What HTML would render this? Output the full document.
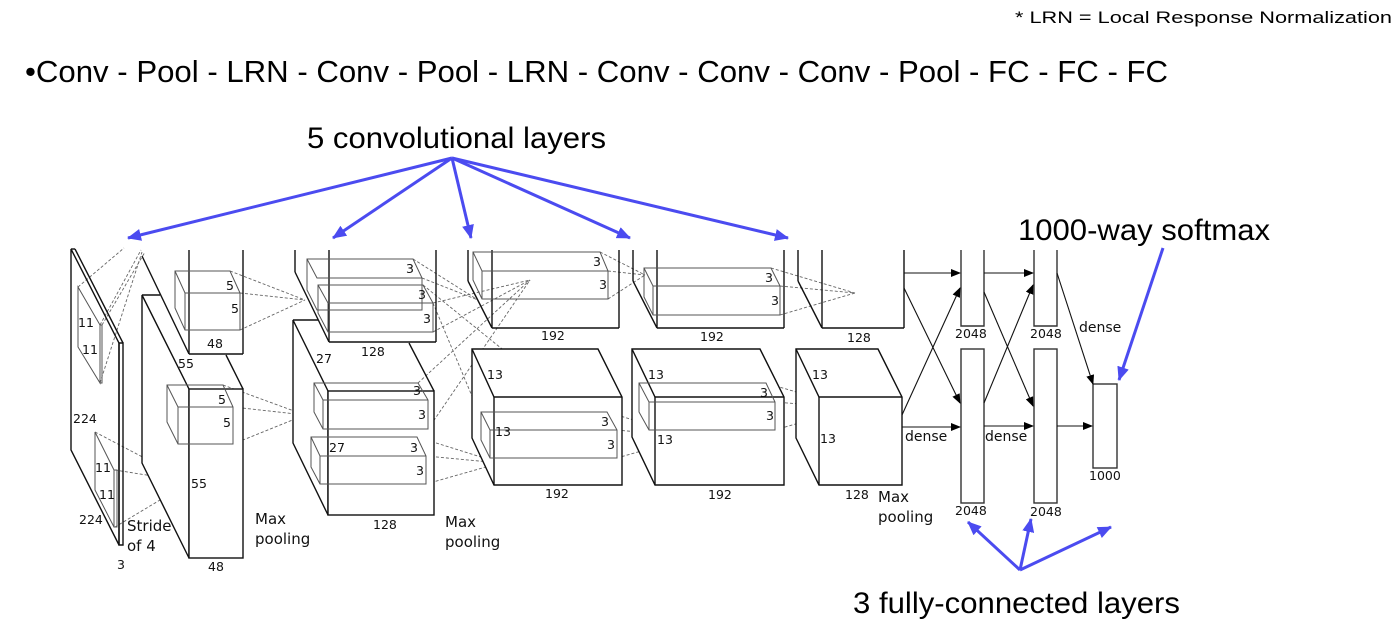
<!DOCTYPE html>
<html><head><meta charset="utf-8"><style>
html,body{margin:0;padding:0;background:#fff;}
svg{display:block;}
.t{font-family:"DejaVu Sans","Liberation Sans",sans-serif;font-size:12.5px;fill:#111;}
.h{font-family:"Liberation Sans",sans-serif;fill:#000;}
</style></head><body>
<svg width="1398" height="633" viewBox="0 0 1398 633" xmlns="http://www.w3.org/2000/svg">
<defs>
<marker id="ak" markerWidth="10" markerHeight="8" refX="9" refY="4" orient="auto" markerUnits="userSpaceOnUse"><path d="M0,0 L10,4 L0,8 Z" fill="#000"/></marker>
<marker id="ab" markerWidth="14" markerHeight="12" refX="13" refY="6" orient="auto" markerUnits="userSpaceOnUse"><path d="M0,0 L14,6 L0,12 Z" fill="#4b4bf0"/></marker>
</defs>

<text class="h" x="1015" y="23" font-size="17" textLength="377" lengthAdjust="spacingAndGlyphs">* LRN = Local Response Normalization</text>
<text class="h" x="25" y="82" font-size="31" textLength="1143" lengthAdjust="spacingAndGlyphs">•Conv - Pool - LRN - Conv - Pool - LRN - Conv - Conv - Conv - Pool - FC - FC - FC</text>
<text class="h" x="307" y="148" font-size="30" textLength="299" lengthAdjust="spacingAndGlyphs">5 convolutional layers</text>
<text class="h" x="1018" y="240" font-size="30" textLength="252" lengthAdjust="spacingAndGlyphs">1000-way softmax</text>
<text class="h" x="853" y="613" font-size="30" textLength="327" lengthAdjust="spacingAndGlyphs">3 fully-connected layers</text>

<g stroke="#4b4bf0" stroke-width="3" fill="none" marker-end="url(#ab)">
<line x1="452" y1="158" x2="128" y2="238"/>
<line x1="452" y1="158" x2="333" y2="238"/>
<line x1="452" y1="158" x2="471" y2="238"/>
<line x1="452" y1="158" x2="630" y2="238"/>
<line x1="452" y1="158" x2="788" y2="238"/>
<line x1="1163" y1="248" x2="1119" y2="380"/>
<line x1="1020" y1="570" x2="968" y2="522"/>
<line x1="1020" y1="570" x2="1031" y2="519"/>
<line x1="1020" y1="570" x2="1111" y2="527"/>
</g>

<g stroke="#666" stroke-width="0.9" stroke-dasharray="3,2" fill="none">
<line x1="78" y1="287" x2="124" y2="248"/><line x1="100" y1="325" x2="141" y2="250"/><line x1="100" y1="383" x2="142" y2="252"/><line x1="102" y1="325" x2="145" y2="252"/>
<line x1="95" y1="432" x2="190" y2="482"/><line x1="115" y1="470" x2="190" y2="482"/><line x1="115" y1="527" x2="190" y2="482"/>
<line x1="230" y1="271" x2="305" y2="300"/><line x1="240" y1="293" x2="305" y2="300"/><line x1="240" y1="330" x2="305" y2="300"/>
<line x1="223" y1="385" x2="305" y2="415"/><line x1="233" y1="407" x2="305" y2="415"/><line x1="233" y1="444" x2="305" y2="415"/>
<line x1="413" y1="259" x2="478" y2="300"/><line x1="422" y1="278" x2="478" y2="300"/><line x1="433" y1="303" x2="530" y2="280"/><line x1="433" y1="332" x2="530" y2="280"/>
<line x1="418" y1="383" x2="530" y2="280"/><line x1="428" y1="429" x2="530" y2="280"/>
<line x1="423" y1="285" x2="580" y2="412"/><line x1="433" y1="303" x2="500" y2="463"/>
<line x1="417" y1="437" x2="500" y2="463"/><line x1="426" y1="456" x2="500" y2="463"/><line x1="426" y1="484" x2="500" y2="463"/>
<line x1="600" y1="252" x2="645" y2="275"/><line x1="608" y1="271" x2="645" y2="275"/><line x1="608" y1="299" x2="645" y2="275"/>
<line x1="607" y1="412" x2="690" y2="437"/><line x1="617" y1="430" x2="690" y2="437"/><line x1="617" y1="458" x2="690" y2="437"/>
<line x1="771" y1="268" x2="855" y2="293"/><line x1="780" y1="286" x2="855" y2="293"/><line x1="780" y1="315" x2="855" y2="293"/>
<line x1="766" y1="383" x2="850" y2="408"/><line x1="775" y1="402" x2="850" y2="408"/><line x1="775" y1="430" x2="850" y2="408"/>
</g>

<g stroke="#111" stroke-width="1.4" fill="none">
<polygon points="71,249 119,343 119,545 71,450"/>
<polygon points="119,343 123,343 123,545 119,545"/>
<line x1="71" y1="249" x2="75" y2="249"/><line x1="75" y1="249" x2="123" y2="343"/>
</g>
<g stroke="#555" stroke-width="1" fill="none">
<polygon points="78,287 100,325 100,383 78,347"/><polygon points="100,325 102,325 102,383 100,383"/>
<polygon points="95,432 114,470 114,527 95,490"/><polygon points="114,470 117,470 117,527 114,527"/>
</g>

<!-- layer 2 -->
<g stroke="#111" stroke-width="1.4" fill="none">
<line x1="142" y1="256" x2="189" y2="354"/>
<line x1="189" y1="250" x2="189" y2="354"/><line x1="243" y1="250" x2="243" y2="354"/>
<line x1="189" y1="354" x2="243" y2="354"/>
<line x1="226" y1="355" x2="243" y2="389"/>
<polygon points="142,295 189,389 189,558 142,463" fill="#fff"/>
<line x1="142" y1="295" x2="160" y2="295"/>
<rect x="189" y="389" width="54" height="169" fill="#fff"/>
</g>
<g stroke="#555" stroke-width="1" fill="none">
<polygon points="175,271 230,271 240,293 240,330 185,330 175,308"/><polyline points="175,271 185,293 240,293"/><line x1="185" y1="293" x2="185" y2="330"/>
<polygon points="167,385 223,385 233,407 233,444 178,444 167,422"/><polyline points="167,385 178,407 233,407"/><line x1="178" y1="407" x2="178" y2="444"/>
</g>

<!-- layer 3 -->
<g stroke="#111" stroke-width="1.4" fill="none">
<line x1="295" y1="250" x2="295" y2="272"/><line x1="295" y1="272" x2="329" y2="342"/>
<line x1="329" y1="250" x2="329" y2="342"/><line x1="436" y1="250" x2="436" y2="342"/><line x1="329" y1="342" x2="436" y2="342"/>
<line x1="409" y1="343" x2="434" y2="391"/>
<polygon points="293,320 328,391 328,515 293,443" fill="#fff"/>
<line x1="293" y1="320" x2="318" y2="320"/>
<rect x="328" y="391" width="106" height="124" fill="#fff"/>
</g>
<g stroke="#555" stroke-width="1" fill="none">
<polygon points="307,259 413,259 422,278 422,310 317,310 307,290"/><polyline points="307,259 317,278 422,278"/>
<polygon points="318,285 423,285 433,303 433,332 328,332 318,313"/><polyline points="318,285 328,303 433,303"/><line x1="328" y1="303" x2="328" y2="332"/>
<polygon points="314,383 418,383 428,400 428,429 323,429 314,412"/><polyline points="314,383 323,400 428,400"/><line x1="323" y1="400" x2="323" y2="429"/>
<polygon points="311,437 417,437 426,456 426,484 320,484 311,467"/><polyline points="311,437 320,456 426,456"/><line x1="320" y1="456" x2="320" y2="484"/>
</g>

<!-- layer 4 -->
<g stroke="#111" stroke-width="1.4" fill="none">
<line x1="468" y1="250" x2="468" y2="281"/><line x1="468" y1="281" x2="492" y2="328"/>
<line x1="492" y1="250" x2="492" y2="328"/><line x1="619" y1="250" x2="619" y2="328"/><line x1="492" y1="328" x2="619" y2="328"/>
<polygon points="472,349 598,349 622,397 622,485 494,485 472,438" fill="#fff"/>
<polyline points="472,349 494,397 622,397"/><line x1="494" y1="397" x2="494" y2="485"/>
</g>
<g stroke="#555" stroke-width="1" fill="none">
<polygon points="473,252 600,252 608,271 608,299 482,299 473,280"/><polyline points="473,252 482,271 608,271"/><line x1="482" y1="271" x2="482" y2="299"/>
<polygon points="481,412 607,412 617,430 617,458 490,458 481,440"/><polyline points="481,412 490,430 617,430"/><line x1="490" y1="430" x2="490" y2="458"/>
</g>

<!-- layer 5 -->
<g stroke="#111" stroke-width="1.4" fill="none">
<line x1="633" y1="250" x2="633" y2="281"/><line x1="633" y1="281" x2="657" y2="328"/>
<line x1="657" y1="250" x2="657" y2="328"/><line x1="784" y1="250" x2="784" y2="328"/><line x1="657" y1="328" x2="784" y2="328"/>
<polygon points="632,349 760,349 784,397 784,485 655,485 632,437" fill="#fff"/>
<polyline points="632,349 655,397 784,397"/><line x1="655" y1="397" x2="655" y2="485"/>
</g>
<g stroke="#555" stroke-width="1" fill="none">
<polygon points="644,268 771,268 780,286 780,315 653,315 644,297"/><polyline points="644,268 653,286 780,286"/><line x1="653" y1="286" x2="653" y2="315"/>
<polygon points="639,383 766,383 775,402 775,430 649,430 639,412"/><polyline points="639,383 649,402 775,402"/><line x1="649" y1="402" x2="649" y2="430"/>
</g>

<!-- layer 6 -->
<g stroke="#111" stroke-width="1.4" fill="none">
<line x1="798" y1="250" x2="798" y2="281"/><line x1="798" y1="281" x2="822" y2="328"/>
<line x1="822" y1="250" x2="822" y2="328"/><line x1="904" y1="250" x2="904" y2="328"/><line x1="822" y1="328" x2="904" y2="328"/>
<polygon points="796,349 878,349 902,397 902,485 819,485 796,438" fill="#fff"/>
<polyline points="796,349 819,397 902,397"/><line x1="819" y1="397" x2="819" y2="485"/>
</g>

<!-- FC -->
<g stroke="#333" stroke-width="1.4" fill="#fff">
<polyline points="961,250 961,326 984,326 984,250" fill="none"/>
<rect x="961" y="349" width="23" height="154"/>
<polyline points="1034,250 1034,326 1057,326 1057,250" fill="none"/>
<rect x="1034" y="349" width="23" height="154"/>
<rect x="1093" y="384" width="24" height="84"/>
</g>
<g stroke="#111" stroke-width="1.1" marker-end="url(#ak)">
<line x1="904" y1="273" x2="960" y2="273"/><line x1="904" y1="288" x2="960" y2="403"/>
<line x1="902" y1="415" x2="960" y2="288"/><line x1="902" y1="427" x2="960" y2="427"/>
<line x1="984" y1="273" x2="1033" y2="273"/><line x1="984" y1="292" x2="1033" y2="406"/>
<line x1="984" y1="403" x2="1033" y2="285"/><line x1="984" y1="426" x2="1033" y2="426"/>
<line x1="1057" y1="426" x2="1092" y2="426"/><line x1="1057" y1="273" x2="1093" y2="384"/>
</g>

<g class="t">
<text x="78" y="327">11</text><text x="82" y="354">11</text>
<text x="73" y="423">224</text><text x="79" y="524">224</text>
<text x="95" y="472">11</text><text x="99" y="499">11</text>
<text x="117" y="569">3</text>
<text x="127" y="531" font-size="15">Stride</text><text x="127" y="551" font-size="15">of 4</text>
<text x="226" y="290">5</text><text x="231" y="313">5</text><text x="207" y="348">48</text>
<text x="178" y="368">55</text>
<text x="218" y="404">5</text><text x="223" y="427">5</text>
<text x="191" y="488">55</text><text x="208" y="571">48</text>
<text x="255" y="524" font-size="15">Max</text><text x="255" y="544" font-size="15">pooling</text>
<text x="406" y="273">3</text><text x="418" y="299">3</text><text x="423" y="323">3</text>
<text x="361" y="356">128</text><text x="316" y="363">27</text>
<text x="413" y="395">3</text><text x="418" y="419">3</text>
<text x="329" y="452">27</text><text x="410" y="452">3</text><text x="416" y="475">3</text>
<text x="373" y="529">128</text>
<text x="445" y="527" font-size="15">Max</text><text x="445" y="547" font-size="15">pooling</text>
<text x="593" y="266">3</text><text x="599" y="289">3</text><text x="541" y="340">192</text>
<text x="487" y="379">13</text><text x="495" y="436">13</text>
<text x="601" y="426">3</text><text x="607" y="449">3</text><text x="545" y="498">192</text>
<text x="765" y="282">3</text><text x="771" y="305">3</text><text x="700" y="341">192</text>
<text x="648" y="379">13</text><text x="657" y="444">13</text>
<text x="760" y="397">3</text><text x="766" y="420">3</text><text x="708" y="499">192</text>
<text x="847" y="342">128</text>
<text x="812" y="379">13</text><text x="820" y="443">13</text><text x="845" y="499">128</text>
<text x="878" y="502" font-size="15">Max</text><text x="878" y="522" font-size="15">pooling</text>
<text x="955" y="338">2048</text><text x="1030" y="338">2048</text>
<text x="955" y="515">2048</text><text x="1030" y="516">2048</text>
<text x="1089" y="480">1000</text>
<text x="905" y="441" font-size="14">dense</text><text x="985" y="441" font-size="14">dense</text>
<text x="1079" y="332" font-size="14">dense</text>
</g>
</svg>
</body></html>
